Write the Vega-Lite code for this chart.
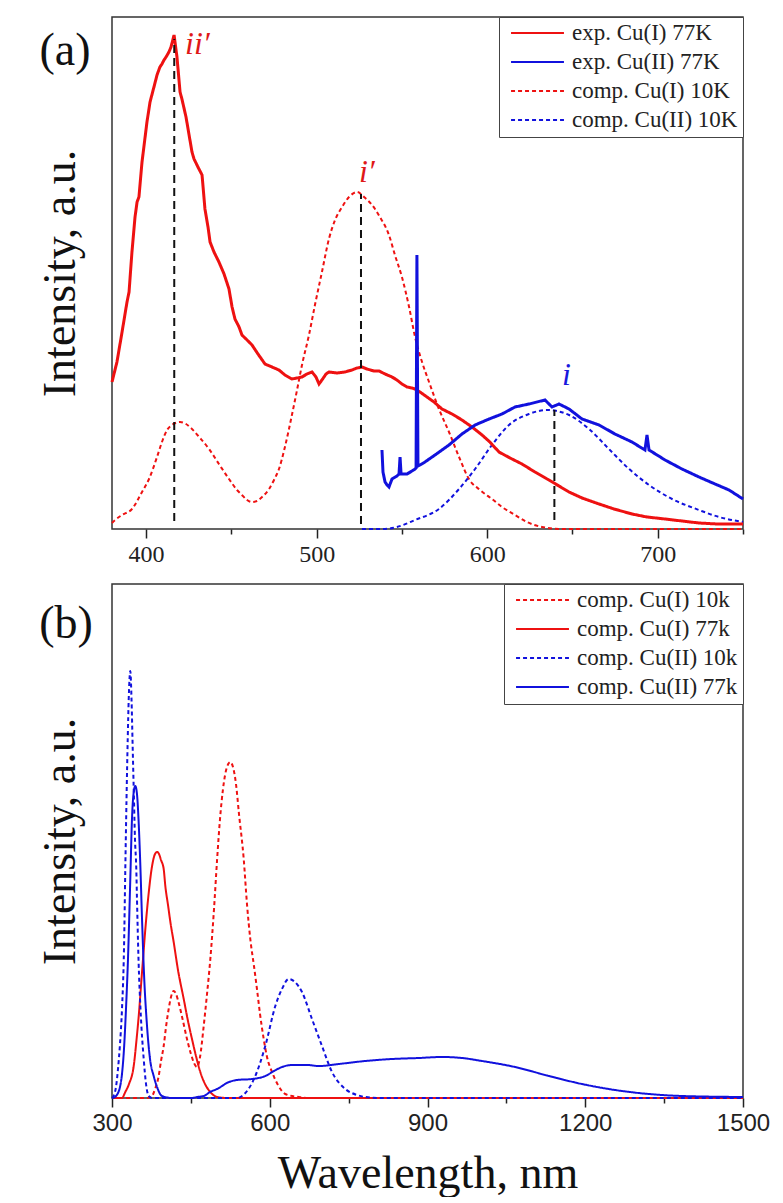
{
  "$schema": "https://vega.github.io/schema/vega-lite/v6.json",
  "background": "white",
  "padding": {"left": 36, "top": 15, "right": 5, "bottom": 0},
  "spacing": 15,
  "config": {
    "font": "Liberation Serif",
    "view": {"stroke": "#333", "strokeWidth": 1.5},
    "axis": {"grid": false, "domain": false, "tickColor": "#222", "tickWidth": 1.5, "labelColor": "#222", "titleColor": "#111", "titleFontWeight": "normal", "labelFlush": false, "labelOverlap": false},
    "legend": {"orient": "top-right", "offset": 0, "padding": 5, "strokeColor": "#444", "fillColor": "white", "labelFont": "Liberation Serif", "labelFontSize": 23, "labelColor": "#222", "symbolType": "stroke", "symbolSize": 2800, "symbolStrokeWidth": 2, "clipHeight": 22, "rowPadding": 6, "symbolOffset": 6, "labelOffset": 7, "labelLimit": 400}
  },
  "datasets": {
    "a_e1": [{"w":380.0,"v":147},{"w":382.9,"v":167},{"w":385.9,"v":197},{"w":388.8,"v":227},{"w":390.0,"v":237},{"w":391.7,"v":277},{"w":393.5,"v":312},{"w":394.7,"v":327},{"w":395.8,"v":332},{"w":397.6,"v":367},{"w":400.5,"v":407},{"w":402.3,"v":427},{"w":404.6,"v":442},{"w":406.4,"v":454},{"w":408.1,"v":462},{"w":409.3,"v":465},{"w":410.5,"v":469},{"w":411.7,"v":472},{"w":413.4,"v":477},{"w":414.6,"v":482},{"w":416.4,"v":494},{"w":418.1,"v":472},{"w":419.9,"v":437},{"w":421.0,"v":430},{"w":423.4,"v":412},{"w":425.2,"v":394},{"w":426.9,"v":377},{"w":428.1,"v":370},{"w":430.4,"v":362},{"w":432.8,"v":354},{"w":434.5,"v":320},{"w":436.3,"v":302},{"w":437.5,"v":287},{"w":439.8,"v":277},{"w":442.7,"v":267},{"w":445.7,"v":255},{"w":448.6,"v":240},{"w":450.4,"v":222},{"w":452.1,"v":210},{"w":454.5,"v":202},{"w":456.2,"v":194},{"w":459.2,"v":189},{"w":462.1,"v":184},{"w":465.6,"v":175},{"w":469.7,"v":165},{"w":473.8,"v":162},{"w":477.9,"v":159},{"w":481.4,"v":154},{"w":485.5,"v":150},{"w":488.5,"v":151},{"w":491.4,"v":152},{"w":494.3,"v":155},{"w":497.3,"v":157},{"w":499.6,"v":152},{"w":501.4,"v":145},{"w":503.1,"v":149},{"w":505.5,"v":155},{"w":507.2,"v":157},{"w":511.9,"v":156},{"w":516.6,"v":157},{"w":520.7,"v":159},{"w":523.7,"v":161},{"w":526.6,"v":162},{"w":529.5,"v":160},{"w":533.6,"v":158},{"w":536.6,"v":158},{"w":540.1,"v":155},{"w":544.2,"v":152},{"w":547.1,"v":149},{"w":550.0,"v":145},{"w":553.0,"v":142},{"w":555.9,"v":141},{"w":557.7,"v":140},{"w":560.6,"v":137},{"w":564.7,"v":132},{"w":568.8,"v":127},{"w":573.5,"v":120},{"w":579.4,"v":115},{"w":585.2,"v":109},{"w":591.1,"v":102},{"w":597.0,"v":94},{"w":601.6,"v":87},{"w":606.9,"v":77},{"w":613.4,"v":71},{"w":620.4,"v":65},{"w":628.0,"v":57},{"w":636.2,"v":49},{"w":642.1,"v":43},{"w":648.0,"v":37},{"w":655.6,"v":31},{"w":665.6,"v":25},{"w":674.4,"v":20},{"w":684.9,"v":15},{"w":693.7,"v":12},{"w":704.3,"v":10},{"w":714.2,"v":8},{"w":724.2,"v":6},{"w":734.7,"v":5},{"w":750,"v":5}],
    "a_e2": [{"w":538.3,"v":79},{"w":538.9,"v":57},{"w":540.1,"v":47},{"w":541.3,"v":44},{"w":542.4,"v":42},{"w":544.2,"v":50},{"w":547.1,"v":53},{"w":548.3,"v":55},{"w":548.9,"v":72},{"w":549.5,"v":55},{"w":551.2,"v":55},{"w":553.0,"v":55},{"w":555.9,"v":58},{"w":557.7,"v":60},{"w":558.3,"v":61},{"w":558.8,"v":274},{"w":559.4,"v":63},{"w":560.6,"v":64},{"w":563.5,"v":67},{"w":569.4,"v":74},{"w":577.6,"v":84},{"w":585.2,"v":95},{"w":592.9,"v":104},{"w":601.1,"v":110},{"w":608.7,"v":115},{"w":616.3,"v":122},{"w":624.5,"v":125},{"w":633.9,"v":129},{"w":638.0,"v":122},{"w":642.1,"v":125},{"w":648.0,"v":120},{"w":655.6,"v":110},{"w":665.6,"v":104},{"w":674.9,"v":95},{"w":684.9,"v":87},{"w":692.5,"v":79},{"w":693.7,"v":94},{"w":694.9,"v":79},{"w":704.3,"v":69},{"w":714.2,"v":60},{"w":724.2,"v":52},{"w":733.6,"v":45},{"w":741.8,"v":39},{"w":750,"v":30}],
    "a_c1": [{"w":380,"v":6},{"w":381.8,"v":9},{"w":385.9,"v":14},{"w":391.7,"v":20},{"w":397.6,"v":37},{"w":401.7,"v":50},{"w":406.4,"v":72},{"w":409.3,"v":87},{"w":412.3,"v":99},{"w":415.2,"v":104},{"w":419.9,"v":107},{"w":423.4,"v":105},{"w":426.9,"v":100},{"w":431.6,"v":91},{"w":436.9,"v":80},{"w":442.7,"v":65},{"w":448.6,"v":50},{"w":453.3,"v":39},{"w":456.2,"v":34},{"w":459.2,"v":29},{"w":462.1,"v":27},{"w":465.0,"v":28},{"w":468.0,"v":32},{"w":472.1,"v":40},{"w":475.0,"v":49},{"w":477.9,"v":60},{"w":481.4,"v":82},{"w":485.5,"v":114},{"w":488.5,"v":139},{"w":491.4,"v":164},{"w":495.5,"v":194},{"w":499.0,"v":224},{"w":503.1,"v":257},{"w":507.2,"v":290},{"w":510.8,"v":309},{"w":514.9,"v":322},{"w":519.0,"v":332},{"w":523.7,"v":337},{"w":527.8,"v":332},{"w":532.5,"v":324},{"w":537.1,"v":312},{"w":542.4,"v":294},{"w":545.9,"v":274},{"w":550.0,"v":252},{"w":554.2,"v":222},{"w":557.7,"v":192},{"w":561.8,"v":167},{"w":565.9,"v":147},{"w":571.7,"v":120},{"w":577.6,"v":97},{"w":583.5,"v":72},{"w":589.3,"v":50},{"w":595.8,"v":39},{"w":602.8,"v":30},{"w":608.7,"v":22},{"w":616.3,"v":14},{"w":623.3,"v":7},{"w":632.1,"v":2},{"w":643.9,"v":0},{"w":750,"v":0}],
    "a_c2": [{"w":526.6,"v":0},{"w":538.3,"v":0},{"w":547.1,"v":2},{"w":557.7,"v":9},{"w":571.7,"v":20},{"w":583.5,"v":40},{"w":592.9,"v":60},{"w":602.8,"v":84},{"w":612.8,"v":104},{"w":624.5,"v":115},{"w":635.1,"v":119},{"w":648.0,"v":114},{"w":659.7,"v":100},{"w":671.4,"v":80},{"w":683.2,"v":60},{"w":694.9,"v":44},{"w":708.4,"v":30},{"w":724.2,"v":19},{"w":735.9,"v":12},{"w":750,"v":7}],
    "a_rules": [{"w":416.5,"v1":8,"v2":490},{"w":526.0,"v1":5,"v2":335},{"w":639.4,"v1":9,"v2":119}],
    "a_lab_red": [{"w":422.8,"v":475,"t":"ii′"},{"w":524.8,"v":347,"t":"i′"}],
    "a_lab_blue": [{"w":643.9,"v":144,"t":"i"}],
    "a_lab_k": [{"w":352.4,"v":478,"t":"(a)"}],
    "b_c1_10": [{"w":300,"v":0},{"w":366.6,"v":0},{"w":376.1,"v":2},{"w":381.8,"v":9},{"w":388.8,"v":22},{"w":393.2,"v":37},{"w":398.3,"v":52},{"w":402.7,"v":71},{"w":407.8,"v":89},{"w":412.2,"v":101},{"w":417.3,"v":107},{"w":421.7,"v":104},{"w":427.4,"v":94},{"w":435.0,"v":77},{"w":442.6,"v":59},{"w":450.2,"v":44},{"w":455.9,"v":35},{"w":461.6,"v":31},{"w":467.4,"v":41},{"w":474.4,"v":72},{"w":480.7,"v":104},{"w":487.0,"v":139},{"w":494.0,"v":189},{"w":499.7,"v":237},{"w":505.4,"v":279},{"w":511.1,"v":309},{"w":518.7,"v":331},{"w":525.0,"v":336},{"w":530.1,"v":331},{"w":535.8,"v":314},{"w":541.5,"v":284},{"w":550.5,"v":239},{"w":556.7,"v":194},{"w":563.0,"v":159},{"w":570.0,"v":132},{"w":575.7,"v":109},{"w":581.5,"v":84},{"w":588.5,"v":59},{"w":594.8,"v":41},{"w":604.3,"v":26},{"w":615.7,"v":13},{"w":629.6,"v":4},{"w":655.1,"v":1},{"w":680.3,"v":0},{"w":1500,"v":0}],
    "b_c1_77": [{"w":300,"v":0},{"w":319.0,"v":0},{"w":325.3,"v":6},{"w":332.3,"v":14},{"w":341.3,"v":32},{"w":346.6,"v":58},{"w":351.9,"v":89},{"w":355.1,"v":112},{"w":359.0,"v":139},{"w":362.8,"v":165},{"w":366.6,"v":188},{"w":370.4,"v":208},{"w":374.2,"v":225},{"w":378.0,"v":237},{"w":381.8,"v":244},{"w":385.6,"v":246},{"w":389.4,"v":244},{"w":393.2,"v":238},{"w":398.3,"v":229},{"w":401.4,"v":212},{"w":406.5,"v":193},{"w":411.3,"v":175},{"w":417.3,"v":156},{"w":425.5,"v":128},{"w":436.4,"v":99},{"w":444.5,"v":77},{"w":452.1,"v":59},{"w":459.7,"v":42},{"w":467.9,"v":26},{"w":476.9,"v":14},{"w":486.9,"v":6},{"w":499.7,"v":1},{"w":518.7,"v":0},{"w":1500,"v":0}],
    "b_c2_10": [{"w":300,"v":0},{"w":303.8,"v":3},{"w":307.6,"v":11},{"w":311.4,"v":29},{"w":315.2,"v":54},{"w":319.0,"v":89},{"w":322.8,"v":149},{"w":325.3,"v":229},{"w":327.6,"v":299},{"w":329.9,"v":359},{"w":331.8,"v":399},{"w":334.8,"v":427},{"w":337.1,"v":399},{"w":339.4,"v":349},{"w":341.3,"v":309},{"w":343.7,"v":259},{"w":346.2,"v":229},{"w":347.5,"v":199},{"w":350.4,"v":139},{"w":354.2,"v":89},{"w":360.3,"v":39},{"w":364.7,"v":14},{"w":369.8,"v":2},{"w":376.1,"v":0},{"w":537.7,"v":0},{"w":547.2,"v":2},{"w":572.5,"v":22},{"w":591.5,"v":52},{"w":610.6,"v":92},{"w":623.3,"v":109},{"w":636.0,"v":119},{"w":648.0,"v":116},{"w":661.3,"v":106},{"w":680.3,"v":79},{"w":699.3,"v":52},{"w":718.4,"v":26},{"w":743.7,"v":9},{"w":765.9,"v":3},{"w":781.7,"v":1},{"w":813.5,"v":0},{"w":1500,"v":0}],
    "b_c2_77": [{"w":300,"v":0},{"w":305.7,"v":1},{"w":307.6,"v":2},{"w":311.4,"v":5},{"w":315.2,"v":11},{"w":319.0,"v":24},{"w":322.8,"v":49},{"w":326.6,"v":89},{"w":330.4,"v":139},{"w":334.8,"v":219},{"w":338.0,"v":279},{"w":340.9,"v":304},{"w":344.3,"v":312},{"w":347.5,"v":304},{"w":350.4,"v":279},{"w":353.8,"v":234},{"w":357.1,"v":179},{"w":360.9,"v":124},{"w":366.6,"v":72},{"w":372.3,"v":39},{"w":379.3,"v":22},{"w":385.6,"v":11},{"w":395.1,"v":2},{"w":414.1,"v":0},{"w":452.1,"v":0},{"w":461.6,"v":1},{"w":474.4,"v":2},{"w":486.4,"v":6},{"w":499.7,"v":9},{"w":522.5,"v":16},{"w":537.7,"v":18},{"w":566.2,"v":19},{"w":591.5,"v":22},{"w":608.1,"v":27},{"w":623.3,"v":31},{"w":642.3,"v":33},{"w":670.8,"v":33},{"w":693.7,"v":32},{"w":731.1,"v":34},{"w":781.7,"v":37},{"w":832.5,"v":39},{"w":883.2,"v":40},{"w":927.6,"v":41},{"w":965.6,"v":40},{"w":1003.6,"v":37},{"w":1066.4,"v":31},{"w":1131.0,"v":22},{"w":1193.8,"v":14},{"w":1256.6,"v":8},{"w":1321.2,"v":4},{"w":1384.0,"v":2},{"w":1500,"v":1}],
    "b_lab_k": [{"w":212.5,"v":474,"t":"(b)"}]
  },
  "vconcat": [
    {
      "width": 631,
      "height": 512,
      "layer": [
        {
          "data": {"name": "a_c1"},
          "mark": {"type": "line", "strokeWidth": 2, "interpolate": "monotone"},
          "encoding": {
            "x": {"field": "w", "type": "quantitative", "scale": {"domain": [380, 750], "nice": false, "zero": false},
                  "axis": {"title": null, "format": "d", "values": [400, 450, 500, 550, 600, 650, 700, 750], "labelExpr": "datum.value % 100 === 0 ? datum.label : ''", "labelFont": "Liberation Serif", "labelFontSize": 24, "labelPadding": 4,
                           "tickSize": {"condition": {"test": "datum.value % 100 === 0", "value": 9}, "value": 5}}},
            "y": {"field": "v", "type": "quantitative", "scale": {"domain": [0, 512], "nice": false},
                  "axis": {"title": "Intensity, a.u.", "titleFont": "Liberation Serif", "titleFontSize": 46, "titlePadding": 28, "labels": false, "ticks": false}},
            "color": {"datum": "comp. Cu(I) 10K", "type": "nominal",
                      "scale": {"domain": ["exp. Cu(I) 77K", "exp. Cu(II) 77K", "comp. Cu(I) 10K", "comp. Cu(II) 10K"], "range": ["#ee1111", "#1111dd", "#ee1111", "#1111dd"]},
                      "legend": {"title": null}},
            "strokeDash": {"datum": "comp. Cu(I) 10K", "type": "nominal",
                      "scale": {"domain": ["exp. Cu(I) 77K", "exp. Cu(II) 77K", "comp. Cu(I) 10K", "comp. Cu(II) 10K"], "range": [[1, 0], [1, 0], [4, 3], [4, 3]]},
                      "legend": {"title": null}}
          }
        },
        {
          "data": {"name": "a_c2"},
          "mark": {"type": "line", "strokeWidth": 2, "interpolate": "monotone"},
          "encoding": {
            "x": {"field": "w", "type": "quantitative"},
            "y": {"field": "v", "type": "quantitative"},
            "color": {"datum": "comp. Cu(II) 10K", "type": "nominal"},
            "strokeDash": {"datum": "comp. Cu(II) 10K", "type": "nominal"}
          }
        },
        {
          "data": {"name": "a_e1"},
          "mark": {"type": "line", "strokeWidth": 3},
          "encoding": {
            "x": {"field": "w", "type": "quantitative"},
            "y": {"field": "v", "type": "quantitative"},
            "color": {"datum": "exp. Cu(I) 77K", "type": "nominal"},
            "strokeDash": {"datum": "exp. Cu(I) 77K", "type": "nominal"}
          }
        },
        {
          "data": {"name": "a_e2"},
          "mark": {"type": "line", "strokeWidth": 3},
          "encoding": {
            "x": {"field": "w", "type": "quantitative"},
            "y": {"field": "v", "type": "quantitative"},
            "color": {"datum": "exp. Cu(II) 77K", "type": "nominal"},
            "strokeDash": {"datum": "exp. Cu(II) 77K", "type": "nominal"}
          }
        },
        {
          "data": {"name": "a_rules"},
          "mark": {"type": "rule", "color": "#111", "strokeWidth": 2, "strokeDash": [8, 5]},
          "encoding": {
            "x": {"field": "w", "type": "quantitative"},
            "y": {"field": "v1", "type": "quantitative"},
            "y2": {"field": "v2"}
          }
        },
        {
          "data": {"name": "a_lab_red"},
          "mark": {"type": "text", "color": "#e01818", "font": "Liberation Serif", "fontStyle": "italic", "fontSize": 32, "align": "left", "baseline": "alphabetic"},
          "encoding": {
            "x": {"field": "w", "type": "quantitative"},
            "y": {"field": "v", "type": "quantitative"},
            "text": {"field": "t"}
          }
        },
        {
          "data": {"name": "a_lab_blue"},
          "mark": {"type": "text", "color": "#1818dd", "font": "Liberation Serif", "fontStyle": "italic", "fontSize": 32, "align": "left", "baseline": "alphabetic"},
          "encoding": {
            "x": {"field": "w", "type": "quantitative"},
            "y": {"field": "v", "type": "quantitative"},
            "text": {"field": "t"}
          }
        },
        {
          "data": {"name": "a_lab_k"},
          "mark": {"type": "text", "color": "#111", "font": "Liberation Serif", "fontSize": 46, "align": "center", "baseline": "middle"},
          "encoding": {
            "x": {"field": "w", "type": "quantitative"},
            "y": {"field": "v", "type": "quantitative"},
            "text": {"field": "t"}
          }
        }
      ]
    },
    {
      "width": 631,
      "height": 514,
      "layer": [
        {
          "data": {"name": "b_c1_10"},
          "mark": {"type": "line", "strokeWidth": 2, "interpolate": "monotone"},
          "encoding": {
            "x": {"field": "w", "type": "quantitative", "scale": {"domain": [300, 1500], "nice": false, "zero": false},
                  "axis": {"title": "Wavelength, nm", "format": "d", "titleFont": "Liberation Serif", "titleFontSize": 46, "titlePadding": 16, "values": [300, 450, 600, 750, 900, 1050, 1200, 1350, 1500], "labelExpr": "datum.value % 300 === 0 ? datum.label : ''", "labelFont": "Liberation Sans", "labelFontSize": 24, "labelPadding": 4,
                           "tickSize": {"condition": {"test": "datum.value % 300 === 0", "value": 9}, "value": 5}}},
            "y": {"field": "v", "type": "quantitative", "scale": {"domain": [0, 514], "nice": false},
                  "axis": {"title": "Intensity, a.u.", "titleFont": "Liberation Serif", "titleFontSize": 46, "titlePadding": 28, "labels": false, "ticks": false}},
            "color": {"datum": "comp. Cu(I) 10k", "type": "nominal",
                      "scale": {"domain": ["comp. Cu(I) 10k", "comp. Cu(I) 77k", "comp. Cu(II) 10k", "comp. Cu(II) 77k"], "range": ["#ee1111", "#ee1111", "#1111dd", "#1111dd"]},
                      "legend": {"title": null}},
            "strokeDash": {"datum": "comp. Cu(I) 10k", "type": "nominal",
                      "scale": {"domain": ["comp. Cu(I) 10k", "comp. Cu(I) 77k", "comp. Cu(II) 10k", "comp. Cu(II) 77k"], "range": [[4, 3], [1, 0], [4, 3], [1, 0]]},
                      "legend": {"title": null}}
          }
        },
        {
          "data": {"name": "b_c1_77"},
          "mark": {"type": "line", "strokeWidth": 2, "interpolate": "monotone"},
          "encoding": {
            "x": {"field": "w", "type": "quantitative"},
            "y": {"field": "v", "type": "quantitative"},
            "color": {"datum": "comp. Cu(I) 77k", "type": "nominal"},
            "strokeDash": {"datum": "comp. Cu(I) 77k", "type": "nominal"}
          }
        },
        {
          "data": {"name": "b_c2_10"},
          "mark": {"type": "line", "strokeWidth": 2, "interpolate": "monotone"},
          "encoding": {
            "x": {"field": "w", "type": "quantitative"},
            "y": {"field": "v", "type": "quantitative"},
            "color": {"datum": "comp. Cu(II) 10k", "type": "nominal"},
            "strokeDash": {"datum": "comp. Cu(II) 10k", "type": "nominal"}
          }
        },
        {
          "data": {"name": "b_c2_77"},
          "mark": {"type": "line", "strokeWidth": 2, "interpolate": "monotone"},
          "encoding": {
            "x": {"field": "w", "type": "quantitative"},
            "y": {"field": "v", "type": "quantitative"},
            "color": {"datum": "comp. Cu(II) 77k", "type": "nominal"},
            "strokeDash": {"datum": "comp. Cu(II) 77k", "type": "nominal"}
          }
        },
        {
          "data": {"name": "b_lab_k"},
          "mark": {"type": "text", "color": "#111", "font": "Liberation Serif", "fontSize": 46, "align": "center", "baseline": "middle"},
          "encoding": {
            "x": {"field": "w", "type": "quantitative"},
            "y": {"field": "v", "type": "quantitative"},
            "text": {"field": "t"}
          }
        }
      ]
    }
  ],
  "resolve": {
    "scale": {"x": "independent", "y": "independent", "color": "independent", "strokeDash": "independent"},
    "legend": {"color": "independent", "strokeDash": "independent"}
  }
}
